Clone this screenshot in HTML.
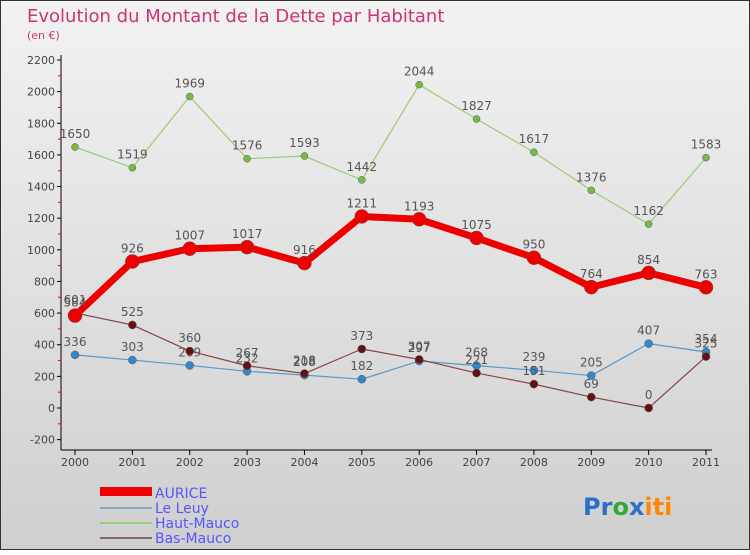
<!DOCTYPE html>
<html><head><meta charset="utf-8"><style>
body{margin:0}
svg text{font-family:"DejaVu Sans","Liberation Sans",sans-serif}
</style></head><body>
<svg width="750" height="550" xmlns="http://www.w3.org/2000/svg" id="chart">
<defs><linearGradient id="bg" x1="0" y1="0" x2="0" y2="1"><stop offset="0" stop-color="#f2f2f2"/><stop offset="1" stop-color="#cfcfcf"/></linearGradient></defs>
<rect x="0.5" y="0.5" width="749" height="549" fill="url(#bg)" stroke="#333"/>
<text x="27" y="22" font-size="18" fill="#cc3377">Evolution du Montant de la Dette par Habitant</text>
<text x="27" y="39" font-size="11" fill="#cc3377">(en €)</text>
<g id="axes"></g><g id="series"></g>
<g>
<rect x="100" y="487" width="52" height="9" fill="#e00"/>
<text x="155" y="498" font-size="14" fill="#55f">AURICE</text>
<line x1="100" y1="508" x2="152" y2="508" stroke="#7aa7cc" stroke-width="2"/>
<text x="155" y="513" font-size="14" fill="#55f">Le Leuy</text>
<line x1="100" y1="523" x2="152" y2="523" stroke="#99cc77" stroke-width="2"/>
<text x="155" y="528" font-size="14" fill="#55f">Haut-Mauco</text>
<line x1="100" y1="538" x2="152" y2="538" stroke="#886666" stroke-width="2"/>
<text x="155" y="543" font-size="14" fill="#55f">Bas-Mauco</text>
</g>
<text x="583" y="515" font-size="24" font-weight="bold"><tspan fill="#2a6fc9">Pr</tspan><tspan fill="#3a3">o</tspan><tspan fill="#2a6fc9">x</tspan><tspan fill="#f80">iti</tspan></text>
</svg>
<script>
const years=["2000","2001","2002","2003","2004","2005","2006","2007","2008","2009","2010","2011"];
const yTicks=[-200,0,200,400,600,800,1000,1200,1400,1600,1800,2000,2200];
const aurice=[584,926,1007,1017,916,1211,1193,1075,950,764,854,763];
const leLeuy=[336,303,269,232,208,182,297,268,239,205,407,354];
const hautMauco=[1650,1519,1969,1576,1593,1442,2044,1827,1617,1376,1162,1583];
const basMauco=[601,525,360,267,218,373,307,221,151,69,0,325];
const NS="http://www.w3.org/2000/svg";
const X=i=>75+i*(706-75)/(years.length-1);
const Y=v=>408-v*(348/2200);
function mk(tag,attrs,parent){const e=document.createElementNS(NS,tag);for(const k in attrs)e.setAttribute(k,attrs[k]);parent.appendChild(e);return e;}
const ax=document.getElementById('axes');
let a=mk('line',{x1:61,y1:55,x2:61,y2:450,stroke:'#000'},ax);


a=mk('line',{x1:61,y1:450,x2:712,y2:450,stroke:'#000'},ax);


yTicks.forEach((t,i)=>{
  mk('line',{x1:57,y1:Y(t),x2:61,y2:Y(t),stroke:'#000'},ax);
  if(i<yTicks.length-1)mk('line',{x1:58,y1:Y(t+100),x2:61,y2:Y(t+100),stroke:'#e00'},ax);
  const tx=mk('text',{x:55,y:Y(t)+4,'font-size':11,'text-anchor':'end',fill:'#444'},ax);
  tx.textContent=t;
  
  
});
years.forEach((y,i)=>{
  mk('line',{x1:X(i),y1:450,x2:X(i),y2:455,stroke:'#000'},ax);
  const tx=mk('text',{x:X(i),y:466,'font-size':11,'text-anchor':'middle',fill:'#444'},ax);
  tx.textContent=y;
  
  
});
const sg=document.getElementById('series');
function series(name,vals,color,w,r,dot){
  const g=mk('g',{},sg);
  
  
  const p=mk('polyline',{points:vals.map((v,i)=>X(i)+','+Y(v)).join(' '),fill:'none',stroke:color,'stroke-width':w,'stroke-linejoin':'round'},g);
  
  
  vals.forEach((v,i)=>{
    const c=mk('circle',{cx:X(i),cy:Y(v),r:r,fill:dot,stroke:'#555','stroke-width':0.5},g);
    
    
    const t=mk('text',{x:X(i),y:Y(v)-9,'font-size':12,'text-anchor':'middle',fill:'#555'},g);
    t.textContent=v;
    
    
  });
}
series('haut-mauco',hautMauco,'#99cc77',1.2,3.5,'#77bb44');
series('le-leuy',leLeuy,'#5599cc',1.2,4,'#3388cc');
series('bas-mauco',basMauco,'#884444',1.2,4,'#661111');
series('aurice',aurice,'#ee0000',7,7,'#ee0000');
</script>
</body></html>
